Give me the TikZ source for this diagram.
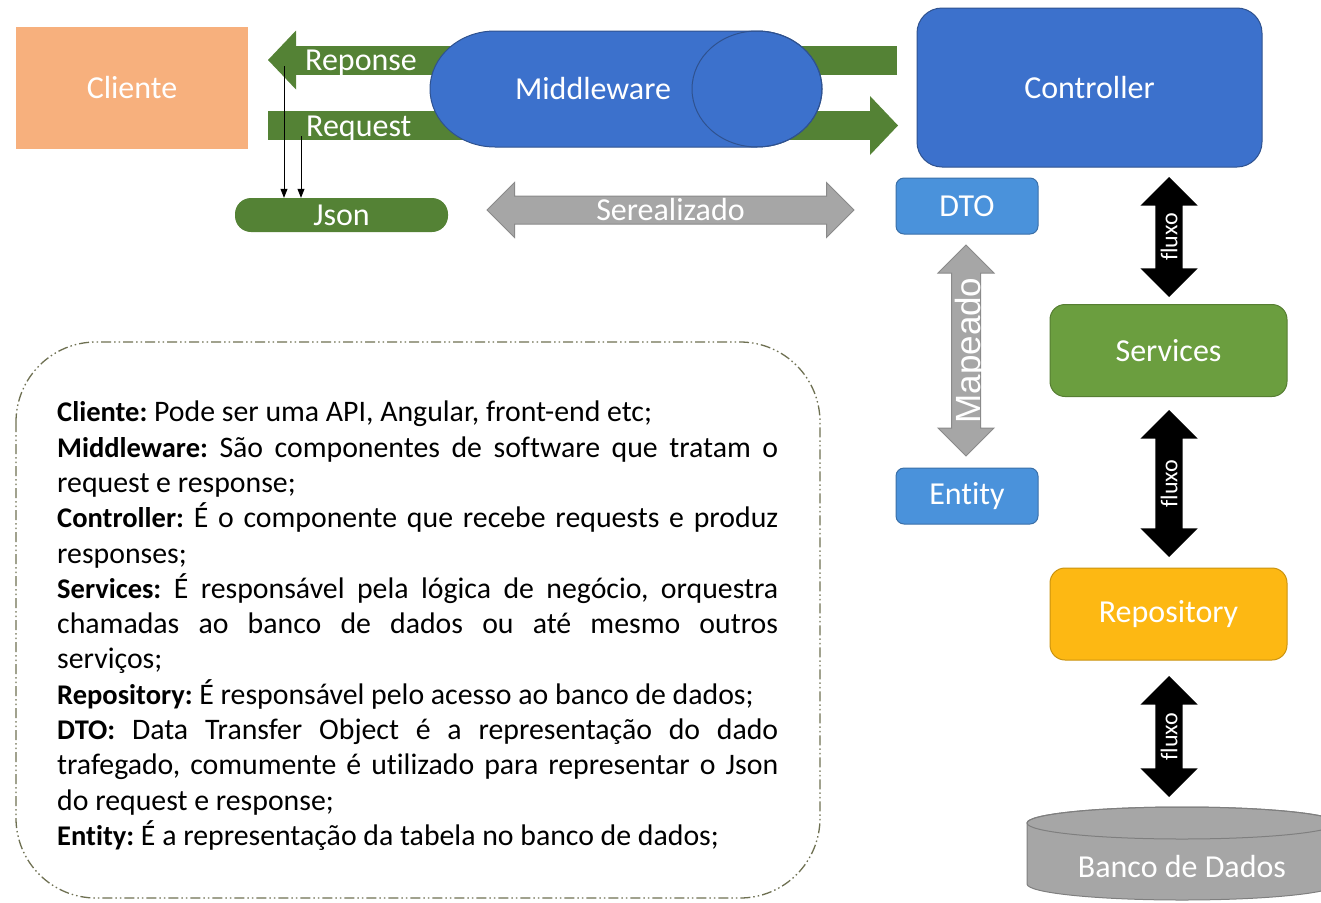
\documentclass[tikz,border=0pt]{standalone}
\usepackage{fontspec}
\setmainfont{Carlito}[Ligatures=NoCommon]
\newfontfamily\arialfont{Liberation Sans}
\usetikzlibrary{arrows.meta,shapes.arrows}

\definecolor{clienteorange}{HTML}{F7B07D}
\definecolor{arrowgreen}{HTML}{548235}
\definecolor{ctrlblue}{HTML}{3C71CC}
\definecolor{ctrlborder}{HTML}{2F528F}
\definecolor{dtoblue}{HTML}{4A92DB}
\definecolor{dtoborder}{HTML}{3A6FA8}
\definecolor{srvgreen}{HTML}{6B9E3F}
\definecolor{repoyellow}{HTML}{FDB813}
\definecolor{mapgray}{HTML}{A6A6A6}
\definecolor{mapborder}{HTML}{8A8A8A}
\definecolor{dbborder}{HTML}{7F7F7F}
\definecolor{noteline}{HTML}{6E7052}

\newcommand\term[1]{{\fontsize{28.5}{35.3}\selectfont\bfseries #1}}

\tikzset{
  lbl/.style={text=white, font=\fontsize{32}{38}\selectfont, inner sep=0pt},
  clientebox/.style={lbl, fill=clienteorange, minimum width=232pt, minimum height=122pt},
  ctrlbox/.style={lbl, fill=ctrlblue, draw=ctrlborder, line width=1pt, rounded corners=25pt},
  dtobox/.style={lbl, fill=dtoblue, draw=dtoborder, line width=1pt, rounded corners=8pt,
    minimum width=142pt, minimum height=56pt},
  layerbox/.style={lbl, fill=#1, draw=#1!80!black, line width=1pt, rounded corners=15pt,
    minimum width=237pt, minimum height=92pt},
  jsonbox/.style={lbl, fill=arrowgreen, rounded corners=16pt, minimum width=213pt, minimum height=34pt},
  flowarrow/.style={double arrow, fill=black, inner xsep=0pt, inner ysep=13.5pt, rotate=90,
    double arrow head extend=15pt},
  maparrow/.style={double arrow, fill=mapgray, draw=mapborder, line width=1pt,
    inner xsep=0pt, inner ysep=13.5pt, double arrow head extend=13.5pt},
  blockarrow/.style={arrowgreen, line width=29pt,
    -{Triangle[length=28pt,width=59pt,line width=0pt]}},
  jsonarrow/.style={line width=0.8pt, -{Triangle[length=9pt,width=7pt]}},
  fluxolbl/.style={text=white, font=\fontsize{24}{28}\selectfont, inner sep=0pt, rotate=90},
  notebox/.style={noteline, line width=1.3pt, rounded corners=80pt,
    dash pattern=on 10pt off 3pt on 1.5pt off 3pt on 1.5pt off 3pt}
}

\begin{document}
\begin{tikzpicture}[x=1pt,y=-1pt]
  \useasboundingbox (0,0) rectangle (1321,902);

  % Caixas principais
  \node[clientebox] (cliente) at (132,88) {Cliente};
  \node[ctrlbox, minimum width=345pt, minimum height=159pt] (ctrl) at (1089.5,87.5) {Controller};
  \node[dtobox] (dto) at (967,206) {DTO};
  \node[dtobox] (entity) at (967,496) {Entity};
  \node[layerbox=srvgreen] (srv) at (1168.5,350.5) {Services};
  \node[layerbox=repoyellow] (repo) at (1168.5,614) {Repository};
  \node[jsonbox] (json) at (341.5,215) {Json};

  % Setas verdes Reponse / Request
  \coordinate (resp-start) at (897,60);
  \coordinate (resp-end) at (268,60);
  \coordinate (req-start) at (268,125.5);
  \coordinate (req-end) at (898,125.5);
  \draw[blockarrow] (resp-start) -- (resp-end);
  \draw[blockarrow] (req-start) -- (req-end);
  \node[lbl, anchor=base west] (reponse) at (305,70) {Reponse};
  \node[lbl, anchor=base west] (request) at (306,136) {Request};

  % Middleware (cilindro deitado)
  \filldraw[fill=ctrlblue, draw=ctrlborder, line width=1pt]
    (757,31) -- (495,31) arc[start angle=270, end angle=90, x radius=65, y radius=58]
    -- (757,147) arc[start angle=90, end angle=-90, x radius=65, y radius=58] -- cycle;
  \draw[ctrlborder, line width=1pt] (757,89) ellipse[x radius=65, y radius=58];
  \node[lbl] (mw) at (593,89) {Middleware};

  % Setas finas para o Json
  \coordinate (j1) at (284,66);
  \coordinate (j2) at (301,136);
  \draw[jsonarrow] (j1) -- (j1 |- json.north);
  \draw[jsonarrow] (j2) -- (j2 |- json.north);

  % Setas cinzas
  \node[maparrow, minimum height=367pt] (ser) at (670.5,210) {};
  \node[lbl] at (ser) {Serealizado};
  \node[maparrow, rotate=90, inner ysep=14pt, minimum height=211pt] (map) at (966,350.5) {};
  \node[lbl, rotate=90, anchor=base, font=\arialfont\fontsize{35}{40}\selectfont]
    at (map.center -| 980,0) {Mapeado};

  % Setas de fluxo
  \node[flowarrow, minimum height=120pt] (flow1) at (1169,237) {};
  \node[fluxolbl] at (flow1) {fluxo};
  \node[flowarrow, minimum height=147pt] (flow2) at (1169,483.5) {};
  \node[fluxolbl] at (flow2) {fluxo};
  \node[flowarrow, minimum height=121pt] (flow3) at (1169,736.5) {};
  \node[fluxolbl] at (flow3) {fluxo};

  % Banco de Dados
  \filldraw[fill=mapgray, draw=dbborder, line width=1pt]
    (1027,823) -- (1027,884) arc[start angle=180, end angle=0, x radius=155, y radius=16]
    -- (1337,823) arc[start angle=0, end angle=-180, x radius=155, y radius=16] -- cycle;
  \draw[dbborder, line width=1pt] (1182,823) ellipse[x radius=155, y radius=16];
  \node[lbl] (db) at (1182,866) {Banco de Dados};

  % Quadro de descricao
  \draw[notebox] (16,342) rectangle (820,898);
  \node[anchor=north west, inner sep=0pt, text width=721pt, align=justify,
        font=\fontsize{29.8}{35.3}\selectfont] (desc) at (57,401) {%
    \frenchspacing\hyphenpenalty=10000\parindent=0pt
    \term{Cliente:} Pode ser uma API, Angular, front-end etc;\par
    \term{Middleware:} São componentes de software que tratam o\linebreak request e response;\par
    \term{Controller:} É o componente que recebe requests e produz\linebreak responses;\par
    \term{Services:} É responsável pela lógica de negócio, orquestra\linebreak chamadas ao banco de dados ou até mesmo outros\linebreak serviços;\par
    \term{Repository:} É responsável pelo acesso ao banco de dados;\par
    \term{DTO:} Data Transfer Object é a representação do dado\linebreak trafegado, comumente é utilizado para representar o Json\linebreak do request e response;\par
    \term{Entity:} É a representação da tabela no banco de dados;};
\end{tikzpicture}
\end{document}
